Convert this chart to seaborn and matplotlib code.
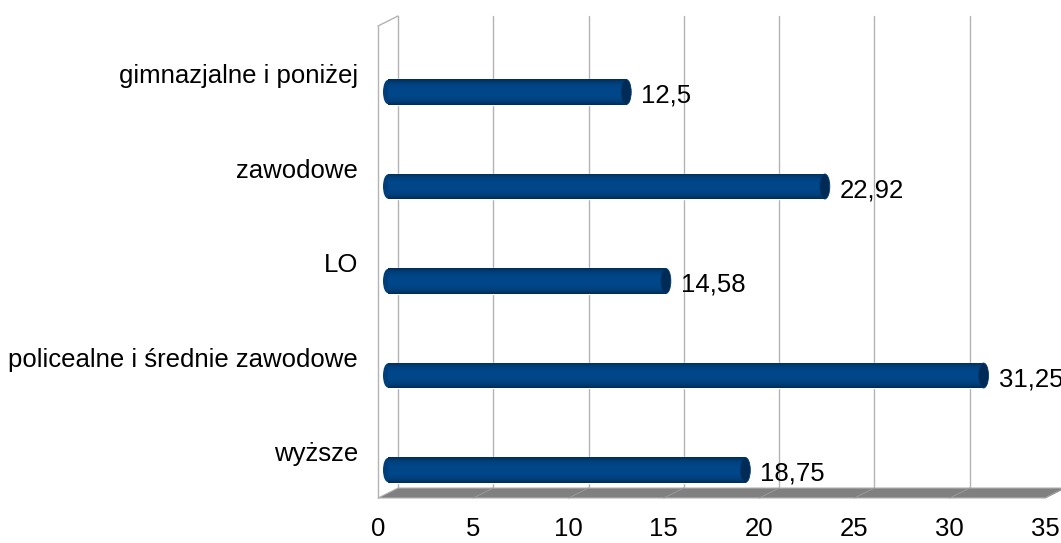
import numpy as np
import pandas as pd
import matplotlib
matplotlib.use("Agg")
import matplotlib.pyplot as plt
import seaborn as sns
from matplotlib.patches import Ellipse, Polygon
from matplotlib.lines import Line2D
from matplotlib.transforms import IdentityTransform

# ---- data ----
categories = ["gimnazjalne i poniżej", "zawodowe", "LO",
              "policealne i średnie zawodowe", "wyższe"]
values = [12.5, 22.92, 14.58, 31.25, 18.75]
value_labels = ["12,5", "22,92", "14,58", "31,25", "18,75"]
x_ticks = [0, 5, 10, 15, 20, 25, 30, 35]
x_tick_labels = ["0", "5", "10", "15", "20", "25", "30", "35"]

sns.set_style("white")
plt.rcParams["font.family"] = ["Liberation Sans", "DejaVu Sans"]
FS = 18.5

W, H = 1061, 543
fig = plt.figure(figsize=(W / 100, H / 100), dpi=100)
ax = fig.add_axes([388 / W, (H - 493) / H, 667 / W, 472 / H])

df = pd.DataFrame({"cat": categories, "val": values})
BAR_H = 0.2646
sns.barplot(data=df, x="val", y="cat", orient="h", color="#004586",
            saturation=1, width=BAR_H, ax=ax, zorder=3)
ax.set_xlim(0, 35)
ax.set_ylim(4.2434, -0.7513)
ax.set_axis_off()

# 3D plane offsets (pixels)
DX, DY = 10, 5

def dx(v):
    return ax.transData.transform((v, 0))[0]

y_top = ax.transAxes.transform((0, 1))[1]
y_bot = ax.transAxes.transform((0, 0))[1]
grid_c = "#b3b3b3"

def add_line(xs, ys, color, lw=1.0, z=0.5):
    ax.add_line(Line2D(xs, ys, color=color, lw=lw, transform=IdentityTransform(),
                       clip_on=False, zorder=z))

# back wall gridlines
for v in x_ticks:
    xb = dx(v) + DX
    add_line([xb, xb], [y_bot + DY, y_top + DY], grid_c)

# left wall
x0f, x0b = dx(0) - DX, dx(0) + DX
add_line([x0f, x0f], [y_bot - DY, y_top - DY], grid_c)
add_line([x0f, x0b], [y_top - DY, y_top + DY], grid_c)

# floor
x35 = dx(35)
floor = Polygon([(x0f, y_bot - DY), (x35 - DX, y_bot - DY),
                 (x35 + DX, y_bot + DY), (x0b, y_bot + DY)],
                closed=True, facecolor="#808080", edgecolor=grid_c, lw=0.8,
                transform=IdentityTransform(), clip_on=False, zorder=0.6)
ax.add_patch(floor)
for v in x_ticks[1:]:
    add_line([dx(v) + DX, dx(v) - DX], [y_bot + DY, y_bot - DY], "#9a9a9a", lw=0.7, z=0.7)

# cylinder shading for bars
t = np.linspace(0, 1, 64)
f = 1 - 0.38 * np.abs(2 * t - 1) ** 3
base = np.array([0x00, 0x47, 0x8a]) / 255.0
grad = (f[:, None] * base[None, :])[:, None, :]
px_per_unit = (dx(35) - dx(0)) / 35.0
cap_w = 10 / px_per_unit
for p in list(ax.patches):
    if not hasattr(p, "get_width"):
        continue
    x0, y0, w, h = p.get_x(), p.get_y(), p.get_width(), p.get_height()
    if h <= 0 or w <= 0:
        continue
    yc = y0 + h / 2
    left = Ellipse((x0, yc), cap_w, h * 0.97, facecolor="#003f7b", edgecolor="none",
                   zorder=2.9, clip_on=False)
    ax.add_patch(left)
    im = ax.imshow(grad, extent=[x0, x0 + w, y0 + h, y0], aspect="auto",
                   zorder=3.1, interpolation="bilinear")
    im.set_clip_path(p)
    cap = Ellipse((x0 + w, yc), cap_w, h, facecolor="#002b57",
                  edgecolor="#00396f", lw=0.6, zorder=3.2, clip_on=False)
    ax.add_patch(cap)
ax.set_xlim(0, 35)
ax.set_ylim(4.2434, -0.7513)
ax.set_axis_off()

# value labels
for i, (v, lbl) in enumerate(zip(values, value_labels)):
    ax.annotate(lbl, xy=(v, i), xytext=(15, -11), textcoords="offset pixels",
                ha="left", va="baseline", fontsize=FS, color="black", zorder=5,
                annotation_clip=False)

# category labels
for i, c in enumerate(categories):
    ax.annotate(c, xy=(0, i), xytext=(-30, 8.5), textcoords="offset pixels",
                ha="right", va="baseline", fontsize=FS, color="black",
                annotation_clip=False)

# x tick labels on front edge
for v, lbl in zip(x_ticks, x_tick_labels):
    ax.annotate(lbl, xy=(v, 0), xycoords=("data", "axes fraction"),
                xytext=(-DX, 7 - y_bot), textcoords="offset pixels",
                ha="center", va="baseline", fontsize=FS, color="black",
                annotation_clip=False)

fig.savefig("out.png", dpi=100)
